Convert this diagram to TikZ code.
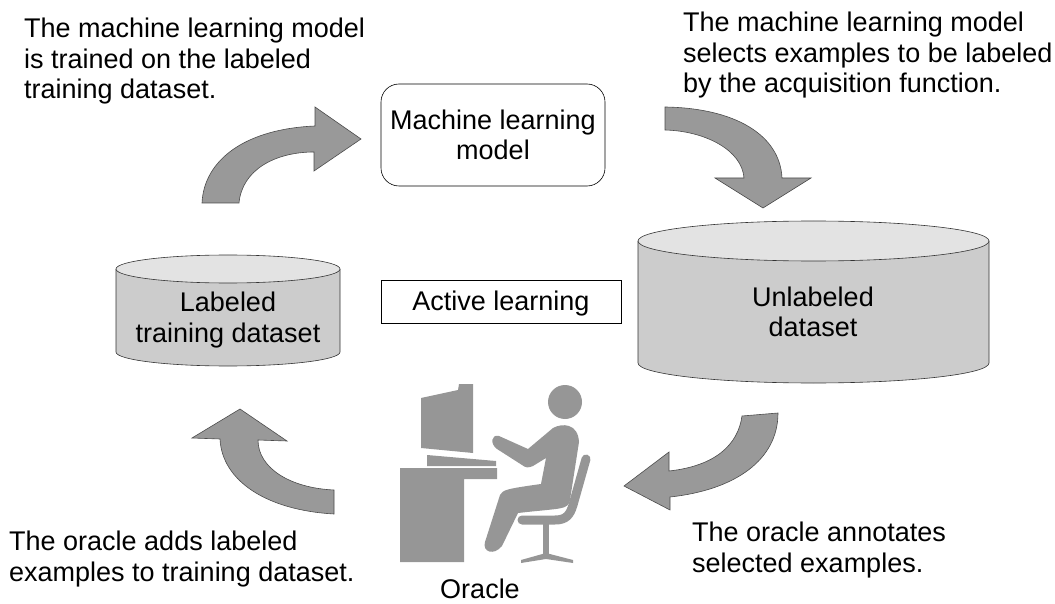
\documentclass[tikz,border=0pt]{standalone}
\usepackage{fontspec}
\setmainfont{Liberation Sans}
\definecolor{arrowgray}{HTML}{999999}
\definecolor{drumgray}{HTML}{CCCCCC}
\definecolor{drumtop}{HTML}{E3E3E3}
\definecolor{icongray}{HTML}{969696}
\tikzset{
  curved/.style={draw=black!70,fill=arrowgray,line width=0.6pt},
  drum/.style={draw=black!80,fill=drumgray,line width=0.6pt},
  drumlid/.style={draw=black!80,fill=drumtop,line width=0.6pt},
  words/.style={align=left,anchor=north west,inner sep=0pt,font=\fontsize{27}{30.5}\selectfont},
  inner/.style={align=center,inner sep=0pt,font=\fontsize{27}{30.5}\selectfont},
  icon/.style={fill=icongray,draw=none}
}
\begin{document}
\begin{tikzpicture}[x=1pt,y=-1pt]
\useasboundingbox (0,0) rectangle (1055,604);

% boxes
\node [draw,rounded corners=18pt,minimum width=224pt,minimum height=102pt,line width=0.6pt] (model) at (493,135) {};
\node [inner] (modeltext) at (493,135) {Machine learning\\model};
\node [draw,minimum width=240pt,minimum height=43pt,line width=0.6pt] (active) at (501,301.5) {};
\node [inner] (activetext) at (501,304) {Active learning};

% labeled dataset
\draw [drum] (116,269) -- (116,352) arc [start angle=180, end angle=0, x radius=112, y radius=14] -- (340,269) ;
\draw [drumlid] (228,269) ellipse [x radius=112, y radius=14] ;
\node [inner] (labeled) at (228,320) {Labeled\\training dataset};

% unlabeled dataset
\draw [drum] (638,241) -- (638,363) arc [start angle=180, end angle=0, x radius=175.5, y radius=20] -- (989,241) ;
\draw [drumlid] (813.5,241) ellipse [x radius=175.5, y radius=20] ;
\node [inner] (unlabeled) at (813,312) {Unlabeled\\dataset};

% curved arrows
\draw [curved] (202,203) .. controls (204,160) and (245,129) .. (315,126) -- (315,107) -- (361,139) -- (314,171) -- (314,152) .. controls (275,152) and (242,170) .. (239,203) -- cycle ;
\draw [curved] (665,107) .. controls (735,108) and (780,135) .. (782,178) -- (811,178) -- (763,208) -- (715,178) -- (744,178) .. controls (742,150) and (705,131) .. (665,130) -- cycle ;
\draw [curved] (742,416) .. controls (738,445) and (715,466) .. (669,471) -- (669,452) -- (624,486) -- (670,510) -- (670,497) .. controls (735,490) and (778,460) .. (778,413) -- cycle ;
\draw [curved] (334,490) .. controls (290,488) and (258,468) .. (258,440) -- (287,441) -- (240,409) -- (192,438) -- (220,439) .. controls (222,480) and (265,510) .. (334,514) -- cycle ;

% oracle icon
\fill [icon] (421,398) -- (458,390) -- (459,384) -- (473,384) -- (473,453) -- (421,448) -- cycle ;
\fill [icon] (427,455) -- (496,461) -- (496,466) -- (427,466) -- cycle ;
\fill [icon] (400,468) -- (497,468) -- (497,479) -- (464,479) -- (464,562) -- (400,562) -- cycle ;
\fill [icon] (565,402) circle [radius=17] ;
\fill [icon] (499,436) -- (528,449) -- (553,428) .. controls (562,423) and (578,423) .. (579,442) -- (570,500) .. controls (568,510) and (562,508) .. (518,513) -- (502,546) .. controls (494,556) and (482,552) .. (485,542) -- (500,495) .. controls (503,490) and (505,489) .. (541,484) -- (546,458) -- (533,466) .. controls (528,468) and (526,468) .. (522,465) -- (497,449) .. controls (490,444) and (491,434) .. (499,436) -- cycle ;
\draw [icongray,line width=9pt,line cap=round] (586,459) -- (573,505) .. controls (570,515) and (566,520) .. (555,520) -- (522,520) ;
\draw [icongray,line width=6pt] (546,520) -- (546,556) ;
\fill [icon] (521,560) -- (546,553) -- (573,560) -- (573,563) -- (546,559) -- (521,563) -- cycle ;
\node [inner] (oracle) at (480,589) {Oracle};

% captions
\node [words] (trained) at (24,18) {The machine learning model\\is trained on the labeled\\training dataset.};
\node [words] (selects) at (683,12) {The machine learning model\\selects examples to be labeled\\by the acquisition function.};
\node [words] (adds) at (9,531) {The oracle adds labeled\\examples to training dataset.};
\node [words] (annotates) at (692,522) {The oracle annotates\\selected examples.};

\end{tikzpicture}
\end{document}
